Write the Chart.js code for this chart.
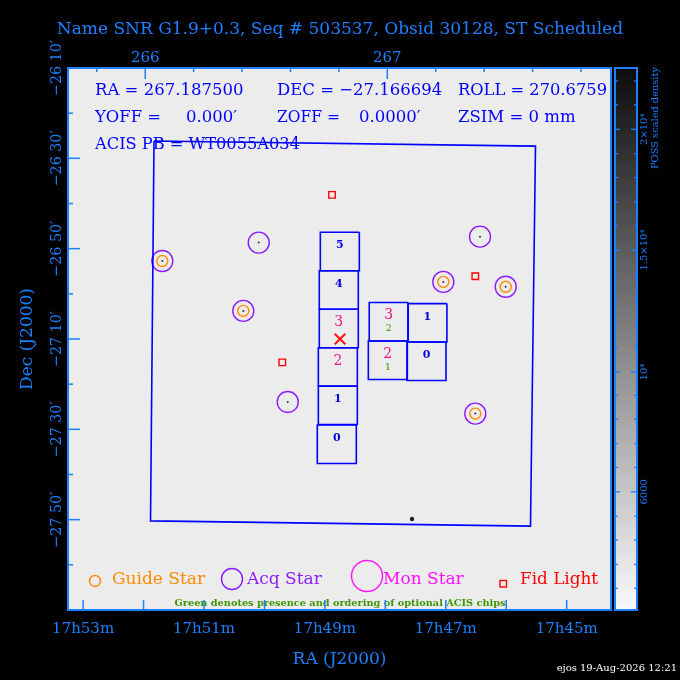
<!DOCTYPE html>
<html>
<head>
<meta charset="utf-8">
<script src="https://cdn.jsdelivr.net/npm/chart.js@4.4.0/dist/chart.umd.min.js"></script>
<style>
  body { margin: 0; background: #000; }
  #wrap { width: 680px; height: 680px; }
</style>
</head>
<body>
<div id="wrap"><canvas id="myChart" width="680" height="680"></canvas></div>
<script>
/*
    ACIS field of view: RA in minutes of 17h, Dec in degrees
*/

// axis ticks
const raLabelTicks = [53, 51, 49, 47, 45];
const raLabels = ['17h53m', '17h51m', '17h49m', '17h47m', '17h45m'];
const raMinorTicks = [52, 50, 48, 46];
const decLabelTicks = [-26.1667, -26.5, -26.8333, -27.1667, -27.5, -27.8333];
const decLabels = ['\u221226 10\u2032', '\u221226 30\u2032', '\u221226 50\u2032', '\u221227 10\u2032', '\u221227 30\u2032', '\u221227 50\u2032'];
const decMinorTicks = [-26.3333, -26.6667, -27.0, -27.3333, -27.6667, -28.0];
const topLabelTicks = [266, 267];
const topLabels = ['266', '267'];
const topMinorTicks = [265.8, 266.2, 266.4, 266.6, 266.8, 267.2, 267.4, 267.6, 267.8];
// colour bar (fraction of bar height, from the bottom)
const cbarLabelTicks = [0.218, 0.439, 0.664, 0.887];
const cbarLabels = ['6000', '10\u2074', '1.5\u00d710\u2074', '2\u00d710\u2074'];
const cbarMinorTicks = [0.040, 0.084, 0.129, 0.173, 0.263, 0.307, 0.352, 0.396, 0.485, 0.530,
                        0.574, 0.619, 0.709, 0.753, 0.798, 0.842, 0.932, 0.976];

// pointing
const aimRa = [48.75];
const aimDec = [-27.1667];

// stars
const guideRa = [51.690, 50.350, 47.041, 46.009, 46.512];
const guideDec = [-26.879, -27.063, -26.956, -26.974, -27.442];
const acqRa = [51.690, 50.350, 47.041, 46.009, 46.512, 50.095, 46.434, 49.615];
const acqDec = [-26.879, -27.063, -26.956, -26.974, -27.442, -26.811, -26.789, -27.399];
const fidRa = [48.882, 49.705, 46.512];
const fidDec = [-26.635, -27.253, -26.935];
const brightRa = [47.559];
const brightDec = [-27.831];

// outer field outline (corners)
const fieldRa = [51.827, 45.516, 45.599, 51.885];
const fieldDec = [-26.436, -26.455, -27.857, -27.838];

// ACIS chips (centres), chip half size in RA minutes / Dec degrees
const chipRa = [48.753, 48.770, 48.770, 48.786, 48.786, 48.803, 47.944, 47.304, 47.959, 47.319];
const chipDec = [-26.844, -26.986, -27.128, -27.270, -27.411, -27.555, -27.103, -27.107, -27.245, -27.249];
const chipLabels = ['5', '4', '3', '2', '1', '0', '3', '1', '2', '0'];
const chipSelected = [false, false, true, true, false, false, true, false, true, false];
const chipOptional = ['', '', '', '', '', '', '2', '', '1', ''];
const CHIP_HALF_RA = 0.3226;
const CHIP_HALF_DEC = 0.0710;

const AXIS_BLUE = 'rgb(28,128,255)';
const SERIF = '"DejaVu Serif", serif';

function toPoints(ras, decs) {
    return ras.map((r, i) => ({x: r, y: decs[i]}));
}

function chipOutline(i) {
    const r = chipRa[i], d = chipDec[i];
    return [
        {x: r - CHIP_HALF_RA, y: d + CHIP_HALF_DEC},
        {x: r + CHIP_HALF_RA, y: d + CHIP_HALF_DEC},
        {x: r + CHIP_HALF_RA, y: d - CHIP_HALF_DEC},
        {x: r - CHIP_HALF_RA, y: d - CHIP_HALF_DEC},
        {x: r - CHIP_HALF_RA, y: d + CHIP_HALF_DEC}
    ];
}

const fieldPts = toPoints(fieldRa, fieldDec);
fieldPts.push(fieldPts[0]);

const datasets = [
    {label: 'Field', data: fieldPts, showLine: true, borderColor: '#0000ff', borderWidth: 1.6, pointRadius: 0}
];
chipRa.forEach((r, i) => {
    datasets.push({label: 'Chip ' + i, data: chipOutline(i), showLine: true,
        borderColor: '#0000ff', borderWidth: 1.6, pointRadius: 0});
});
datasets.push(
    {label: 'Bright', data: toPoints(brightRa, brightDec), pointRadius: 2.2,
        backgroundColor: '#222', borderWidth: 0},
    {label: 'Star dots', data: toPoints(acqRa, acqDec), pointRadius: 1,
        backgroundColor: '#333', borderWidth: 0},
    {label: 'Acq Star', data: toPoints(acqRa, acqDec), pointStyle: 'circle', pointRadius: 10.5,
        borderColor: '#8c1cff', backgroundColor: 'rgba(0,0,0,0)', borderWidth: 1.4},
    {label: 'Guide Star', data: toPoints(guideRa, guideDec), pointStyle: 'circle', pointRadius: 5.5,
        borderColor: '#ff8a00', backgroundColor: 'rgba(0,0,0,0)', borderWidth: 1.4},
    {label: 'Fid Light', data: toPoints(fidRa, fidDec), pointStyle: 'rect', pointRadius: 4.6,
        borderColor: '#ff0000', backgroundColor: 'rgba(0,0,0,0)', borderWidth: 1.4},
    {label: 'Aim', data: toPoints(aimRa, aimDec), pointStyle: 'crossRot', pointRadius: 7.5,
        borderColor: '#ff1010', borderWidth: 2}
);

function rotText(ctx, text, x, y, align, maxW) {
    ctx.save();
    ctx.translate(x, y);
    ctx.rotate(-Math.PI / 2);
    ctx.textAlign = align;
    ctx.textBaseline = 'middle';
    ctx.fillText(text, 0, 0, maxW);
    ctx.restore();
}

function tickLine(ctx, x0, y0, x1, y1) {
    ctx.beginPath();
    ctx.moveTo(x0, y0);
    ctx.lineTo(x1, y1);
    ctx.stroke();
}

const skyPlugin = {
    id: 'sky',
    beforeDraw(chart) {
        const {ctx, chartArea: a} = chart;
        ctx.save();
        ctx.fillStyle = '#000';
        ctx.fillRect(0, 0, chart.width, chart.height);
        ctx.fillStyle = '#ececec';
        ctx.fillRect(a.left, a.top, a.right - a.left, a.bottom - a.top);
        ctx.restore();
    },
    afterDatasetsDraw(chart) {
        const {ctx, chartArea: a, scales} = chart;
        const xs = scales.x, ys = scales.y, xt = scales.x2, cb = scales.cb;
        ctx.save();

        // chip numbers
        ctx.textAlign = 'center';
        ctx.textBaseline = 'middle';
        chipLabels.forEach((lab, i) => {
            const px = xs.getPixelForValue(chipRa[i]);
            const py = ys.getPixelForValue(chipDec[i]);
            if (chipSelected[i]) {
                ctx.fillStyle = '#e8147a';
                ctx.font = '14px ' + SERIF;
            } else {
                ctx.fillStyle = '#0000e0';
                ctx.font = 'bold 11px ' + SERIF;
            }
            ctx.fillText(lab, px, py - 6);
            if (chipOptional[i]) {
                ctx.fillStyle = '#3c9a00';
                ctx.font = '10px ' + SERIF;
                ctx.fillText(chipOptional[i], px, py + 7);
            }
        });

        // info text
        ctx.fillStyle = '#0000ff';
        ctx.font = '16.5px ' + SERIF;
        ctx.textAlign = 'left';
        ctx.textBaseline = 'middle';
        ctx.fillText('RA = 267.187500', 95, 91, 152);
        ctx.fillText('DEC = \u221227.166694', 277, 91, 166);
        ctx.fillText('ROLL = 270.6759', 458, 91, 149);
        ctx.fillText('YOFF =', 95, 118, 66);
        ctx.fillText('0.000\u2032', 186, 118, 63);
        ctx.fillText('ZOFF =', 277, 118, 63);
        ctx.fillText('0.0000\u2032', 359, 118, 73);
        ctx.fillText('ZSIM = 0 mm', 458, 118, 123);
        ctx.fillText('ACIS PB = WT0055A034', 95, 145, 205);

        // legend
        ctx.lineWidth = 1.4;
        ctx.font = '17px ' + SERIF;
        ctx.strokeStyle = '#ff8a00';
        ctx.beginPath(); ctx.arc(95, 581, 5.5, 0, 2 * Math.PI); ctx.stroke();
        ctx.fillStyle = '#ff8a00';
        ctx.fillText('Guide Star', 112, 580, 95);
        ctx.strokeStyle = '#8c1cff';
        ctx.beginPath(); ctx.arc(232, 579, 10.5, 0, 2 * Math.PI); ctx.stroke();
        ctx.fillStyle = '#8c1cff';
        ctx.fillText('Acq Star', 247, 580, 76);
        ctx.strokeStyle = '#ff10ff';
        ctx.beginPath(); ctx.arc(367, 576, 15.5, 0, 2 * Math.PI); ctx.stroke();
        ctx.fillStyle = '#ff10ff';
        ctx.fillText('Mon Star', 383, 580, 82);
        ctx.strokeStyle = '#ff0000';
        ctx.strokeRect(500, 580.5, 6.5, 6.5);
        ctx.fillStyle = '#ff0000';
        ctx.fillText('Fid Light', 520, 580, 78);

        ctx.fillStyle = '#3c9600';
        ctx.font = 'bold 10px ' + SERIF;
        ctx.textAlign = 'center';
        ctx.fillText('Green denotes presence and ordering of optional ACIS chips', 340, 603, 331);

        // plot frame and inward ticks
        ctx.strokeStyle = AXIS_BLUE;
        ctx.lineWidth = 2;
        ctx.strokeRect(a.left, a.top, a.right - a.left, a.bottom - a.top);
        ctx.lineWidth = 1.5;
        raLabelTicks.concat(raMinorTicks).forEach(v => {
            const px = xs.getPixelForValue(v);
            tickLine(ctx, px, a.bottom, px, a.bottom - 10);
        });
        topLabelTicks.forEach(v => {
            const px = xt.getPixelForValue(v);
            tickLine(ctx, px, a.top, px, a.top + 11);
        });
        topMinorTicks.forEach(v => {
            const px = xt.getPixelForValue(v);
            tickLine(ctx, px, a.top, px, a.top + 4);
        });
        decLabelTicks.forEach(v => {
            const py = ys.getPixelForValue(v);
            tickLine(ctx, a.left, py, a.left + 12, py);
        });
        decMinorTicks.forEach(v => {
            const py = ys.getPixelForValue(v);
            tickLine(ctx, a.left, py, a.left + 5, py);
        });

        // rotated Dec labels
        ctx.fillStyle = AXIS_BLUE;
        ctx.font = '15px ' + SERIF;
        decLabelTicks.forEach((v, i) => {
            rotText(ctx, decLabels[i], 57, ys.getPixelForValue(v), 'center', 56);
        });

        // colour bar
        const bx0 = a.right + 4, bx1 = a.right + 26;
        const grad = ctx.createLinearGradient(0, cb.top, 0, cb.bottom);
        grad.addColorStop(0, '#0c0c0c');
        grad.addColorStop(1, '#fafafa');
        ctx.fillStyle = grad;
        ctx.fillRect(bx0, cb.top, bx1 - bx0, cb.bottom - cb.top);
        ctx.strokeStyle = AXIS_BLUE;
        ctx.lineWidth = 2;
        ctx.strokeRect(bx0, cb.top, bx1 - bx0, cb.bottom - cb.top);
        ctx.lineWidth = 1.3;
        cbarMinorTicks.forEach(v => {
            const py = cb.getPixelForValue(v);
            tickLine(ctx, bx0, py, bx0 + 3, py);
            tickLine(ctx, bx1, py, bx1 - 3, py);
        });
        cbarLabelTicks.forEach(v => {
            const py = cb.getPixelForValue(v);
            tickLine(ctx, bx0, py, bx0 + 5, py);
            tickLine(ctx, bx1, py, bx1 - 6, py);
        });
        ctx.fillStyle = AXIS_BLUE;
        ctx.font = '10px ' + SERIF;
        cbarLabelTicks.forEach((v, i) => {
            rotText(ctx, cbarLabels[i], 644, cb.getPixelForValue(v), 'center');
        });
        rotText(ctx, 'POSS scaled density', 655, 169, 'left', 102);

        // title and stamp
        ctx.fillStyle = '#1f7fff';
        ctx.font = '17px ' + SERIF;
        ctx.textAlign = 'center';
        ctx.textBaseline = 'middle';
        ctx.fillText('Name SNR G1.9+0.3, Seq # 503537, Obsid 30128, ST Scheduled', 340, 30, 568);
        ctx.fillStyle = '#ffffff';
        ctx.font = '10px ' + SERIF;
        ctx.textAlign = 'right';
        ctx.fillText('ejos 19-Aug-2026 12:21', 677, 668, 128);
        ctx.restore();
    }
};

function createChart() {
    const ctx = document.getElementById('myChart');
    const myChart = new Chart(ctx, {
        type: 'scatter',
        data: {datasets: datasets},
        options: {
            responsive: false,
            animation: false,
            devicePixelRatio: 1,
            events: [],
            layout: {padding: 0},
            scales: {
                x: {
                    type: 'linear',
                    position: 'bottom',
                    reverse: true,          // RA grows to the left
                    min: 44.267,
                    max: 53.25,
                    grid: {display: false, drawTicks: false},
                    border: {display: false},
                    afterBuildTicks: s => { s.ticks = raLabelTicks.map(v => ({value: v})); },
                    afterFit: s => { s.height = 70; },
                    ticks: {
                        color: AXIS_BLUE,
                        font: {family: SERIF, size: 15},
                        padding: 10,
                        maxRotation: 0,
                        autoSkip: false,
                        callback: (v, i) => raLabels[i]
                    },
                    title: {
                        display: true,
                        text: 'RA (J2000)',
                        color: AXIS_BLUE,
                        font: {family: SERIF, size: 17},
                        padding: {top: 0, bottom: 10}
                    }
                },
                x2: {
                    type: 'linear',
                    axis: 'x',
                    position: 'top',
                    min: 265.681,
                    max: 267.924,
                    grid: {display: false, drawTicks: false},
                    border: {display: false},
                    afterBuildTicks: s => { s.ticks = topLabelTicks.map(v => ({value: v})); },
                    afterFit: s => { s.height = 68; },
                    ticks: {
                        color: AXIS_BLUE,
                        font: {family: SERIF, size: 15},
                        padding: 1,
                        maxRotation: 0,
                        autoSkip: false,
                        callback: (v, i) => topLabels[i]
                    }
                },
                y: {
                    type: 'linear',
                    position: 'left',
                    min: -28.1667,
                    max: -26.1667,
                    grid: {display: false, drawTicks: false},
                    border: {display: false},
                    ticks: {display: false},
                    afterFit: s => { s.width = 68; },
                    title: {
                        display: true,
                        text: 'Dec (J2000)',
                        color: AXIS_BLUE,
                        font: {family: SERIF, size: 17},
                        padding: {top: 17, bottom: 0}
                    }
                },
                cb: {
                    type: 'linear',
                    axis: 'y',
                    position: 'right',
                    min: 0,
                    max: 1,
                    grid: {display: false, drawTicks: false},
                    border: {display: false},
                    ticks: {display: false},
                    afterFit: s => { s.width = 69; }
                }
            },
            plugins: {
                legend: {display: false},
                title: {display: false},
                tooltip: {enabled: false}
            }
        },
        plugins: [skyPlugin]
    });
}

createChart();
</script>
</body>
</html>
